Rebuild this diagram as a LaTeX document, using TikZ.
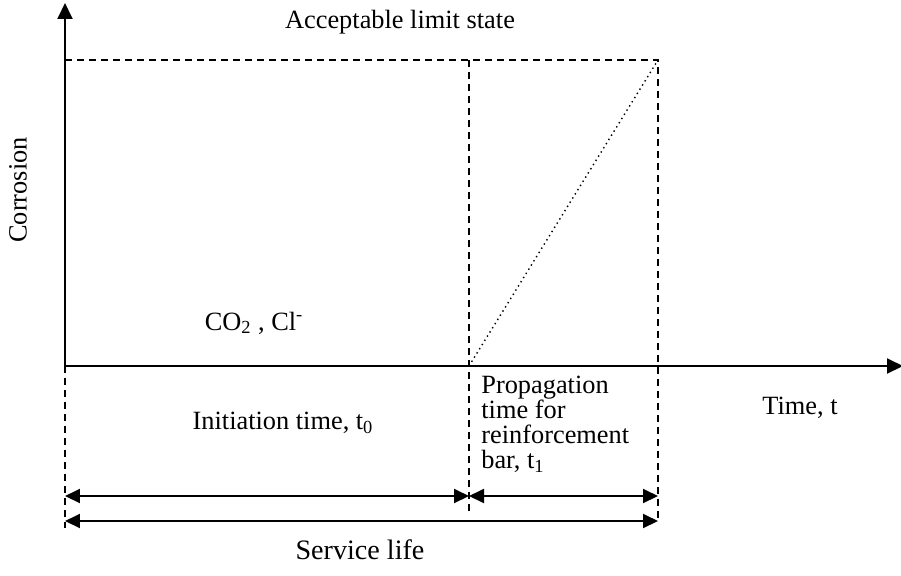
\documentclass[tikz,border=0pt]{standalone}
\usepackage{fontspec}
\setmainfont{Liberation Serif}
\usetikzlibrary{arrows.meta,positioning}

\begin{document}
\begin{tikzpicture}[x=0.02cm,y=-0.02cm,
  axis/.style={line width=1.1pt,-{Triangle[length=0.32cm,width=0.3cm]}},
  limit/.style={line width=1pt,dash pattern=on 0.14cm off 0.1cm},
  span/.style={line width=1.1pt,{Triangle[length=0.3cm,width=0.28cm]}-{Triangle[length=0.3cm,width=0.28cm]}},
  lbl/.style={font=\fontsize{15}{17}\selectfont,inner sep=0pt}]
\useasboundingbox (0,0) rectangle (901,575);

% axes
\coordinate (origin) at (65,366);
\coordinate (ytop) at (65,3);
\coordinate (xend) at (903,366);
\draw[axis] (origin) -- (ytop);
\draw[axis] (origin) -- (xend);

% limit state and time marks
\coordinate (limitL) at (65,60);
\coordinate (limitR) at (658,60);
\coordinate (start) at (469,366);
\coordinate (tenD) at (469,60);
\coordinate (baseL) at (65,528);
\coordinate (baseM) at (469,512);
\coordinate (baseR) at (658,522);
\draw[limit] (limitL) -- (limitR) -- (baseR);
\draw[limit] (tenD) -- (baseM);
\draw[limit] (origin) -- (baseL);
\draw[line width=0.8pt,dotted] (start) -- (limitR);

% spans
\coordinate (s1) at (65,496);
\coordinate (s2) at (469,496);
\coordinate (s3) at (658,496);
\coordinate (l1) at (65,521);
\coordinate (l2) at (658,521);
\draw[span] (s1) -- (s2);
\draw[span] (s2) -- (s3);
\draw[span] (l1) -- (l2);

% labels
\node[lbl] (limit) at (400,22) {Acceptable limit state};
\node[lbl,rotate=90] (corr) at (18,190) {Corrosion};
\node[lbl] (agents) at (254,323) {CO\textsubscript{2} , Cl\textsuperscript{-}};
\node[lbl] (init) at (283,423) {Initiation time, t\textsubscript{0}};
\node[lbl,align=left,anchor=north west,font=\fontsize{15}{14.2}\selectfont] (prop) at (481,376)
  {Propagation\\time for\\reinforcement\\bar, t\textsubscript{1}};
\node[lbl] (time) at (800,408) {Time, t};
\node[lbl,font=\fontsize{16}{19}\selectfont] (life) at (360,550) {Service life};
\end{tikzpicture}
\end{document}
